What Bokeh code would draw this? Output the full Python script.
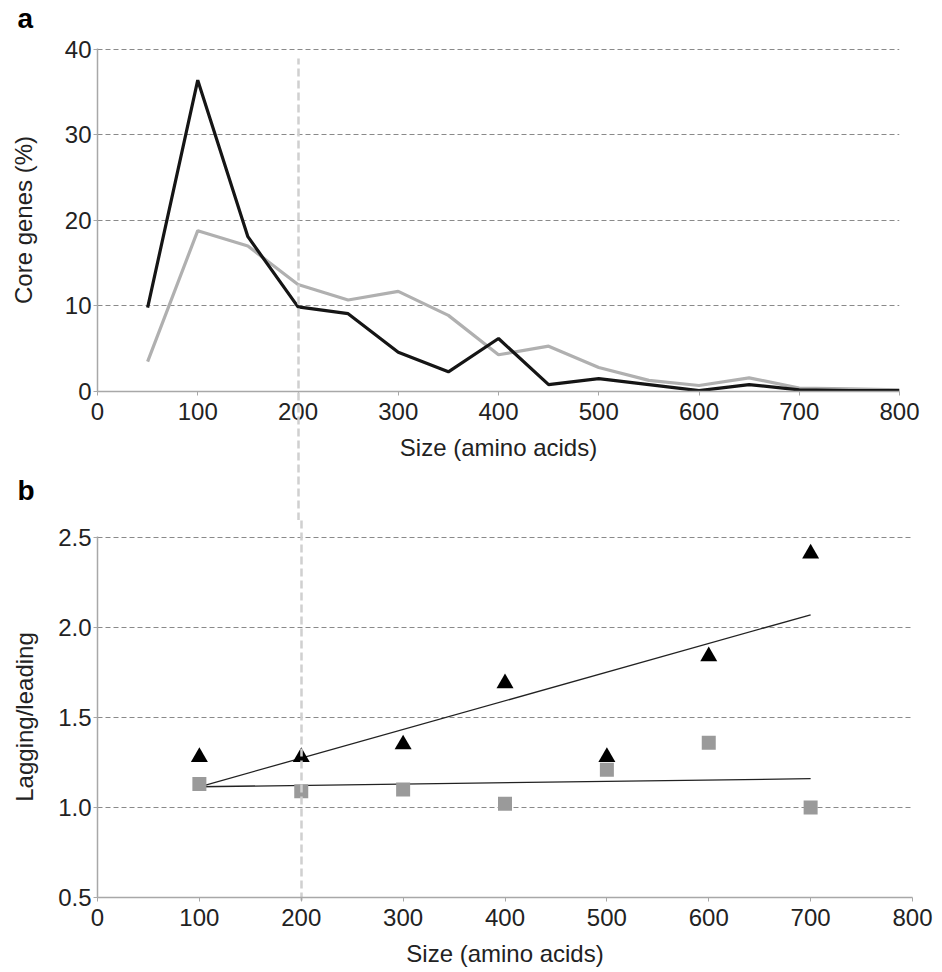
from bokeh.plotting import figure
from bokeh.layouts import column
from bokeh.models import Range1d, FixedTicker, LinearAxis, Title
from bokeh.embed import file_html
from bokeh.resources import INLINE

# ---------------- data ----------------
size_a = [50, 100, 150, 200, 250, 300, 350, 400, 450, 500, 550, 600, 650, 700, 750, 800]
core_black = [9.8, 36.4, 18.1, 9.9, 9.1, 4.6, 2.3, 6.2, 0.8, 1.5, 0.8, 0.1, 0.8, 0.2, 0.1, 0.1]
core_gray = [3.5, 18.8, 17.0, 12.5, 10.7, 11.7, 8.9, 4.3, 5.3, 2.8, 1.3, 0.7, 1.6, 0.4, 0.3, 0.2]

size_b = [100, 200, 300, 400, 500, 600, 700]
ratio_tri = [1.28, 1.28, 1.35, 1.69, 1.28, 1.84, 2.41]
ratio_sq = [1.13, 1.09, 1.10, 1.02, 1.21, 1.36, 1.00]
trend_x = [100, 700]
trend_tri = [1.115, 2.07]
trend_sq = [1.115, 1.16]

xticks = [0, 100, 200, 300, 400, 500, 600, 700, 800]
yticks_a = [0, 10, 20, 30, 40]
yticks_b = [0.5, 1.0, 1.5, 2.0, 2.5]
yticks_b_labels = ["0.5", "1.0", "1.5", "2.0", "2.5"]
cut_x = 200

FONT = "Liberation Sans"
TXT = "#222222"
AXC = "#a8a8a8"
GRIDC = "#8a8a8a"
CUTC = "#d0d0d0"


def style(p, yticks):
    p.outline_line_color = None
    p.title_location = None
    p.xgrid.grid_line_color = None
    p.ygrid.ticker = FixedTicker(ticks=yticks[1:])
    p.ygrid.grid_line_color = GRIDC
    p.ygrid.grid_line_dash = "5 3"
    p.ygrid.grid_line_width = 1
    for ax in (p.xaxis[0], p.yaxis[0]):
        ax.axis_line_color = AXC
        ax.axis_line_width = 1.5
        ax.major_tick_line_color = AXC
        ax.major_tick_in = 0
        ax.major_tick_out = 4
        ax.minor_tick_line_color = None
        ax.major_label_text_font = FONT
        ax.major_label_text_font_size = "24px"
        ax.major_label_text_color = TXT
        ax.axis_label_text_font = FONT
        ax.axis_label_text_font_size = "24px"
        ax.axis_label_text_font_style = "normal"
        ax.axis_label_text_color = TXT
    p.xaxis.ticker = FixedTicker(ticks=xticks)
    p.yaxis.ticker = FixedTicker(ticks=yticks)
    p.xaxis.major_label_standoff = 7
    p.yaxis.major_label_standoff = 2
    p.xaxis.axis_label_standoff = 11


def cut_axis(tick_in, tick_out, color=CUTC):
    # dashed reference line at x = cut_x, drawn as the single tick of a bare axis
    return LinearAxis(ticker=FixedTicker(ticks=[cut_x]), axis_line_color=None,
                      major_tick_in=tick_in, major_tick_out=tick_out,
                      major_tick_line_color=color, major_tick_line_width=2.5,
                      major_tick_line_dash="8 4", minor_tick_line_color=None,
                      major_label_text_font_size="0px", major_label_text_color=None,
                      major_label_standoff=0)


def letter(t, standoff):
    return Title(text=t, align="left", offset=-80, text_font=FONT, text_font_style="bold",
                 text_font_size="28px", text_color="black", standoff=standoff,
                 vertical_align="top")


# ---------------- panel a ----------------
pa = figure(width=929, height=520, output_backend="svg", toolbar_location=None,
            x_range=Range1d(0, 800), y_range=Range1d(0, 40.1))
pa.min_border_left = 97
pa.min_border_right = 30
pa.min_border_top = 48
pa.min_border_bottom = 129
style(pa, yticks_a)
pa.xaxis.axis_label = "Size (amino acids)"
pa.yaxis.axis_label = "Core genes (%)"
pa.yaxis.axis_label_standoff = 25

pa.line(size_a, core_gray, line_color="#b0b0b0", line_width=3.2)
pa.line(size_a, core_black, line_color="#151515", line_width=3.2)

# above: invisible spacer (inner), then panel letter "a" (outer)
pa.add_layout(cut_axis(0, 13, color=None), "above")
pa.add_layout(letter("a", 0), "above")
# below: x axis (inner), letter "b", then the dashed cut line (outer)
pa.add_layout(letter("b", 22), "below")
pa.add_layout(cut_axis(460, 2), "below")

# ---------------- panel b ----------------
pb = figure(width=942, height=452, output_backend="svg", toolbar_location=None,
            x_range=Range1d(0, 800), y_range=Range1d(0.5, 2.505))
pb.min_border_left = 97
pb.min_border_right = 30
pb.min_border_top = 16
pb.min_border_bottom = 75
style(pb, yticks_b)
pb.yaxis.major_label_overrides = {t: l for t, l in zip(yticks_b, yticks_b_labels)}
pb.xaxis.axis_label = "Size (amino acids)"
pb.yaxis.axis_label = "Lagging/leading"
pb.yaxis.axis_label_standoff = 17

pb.line(trend_x, trend_tri, line_color="#222222", line_width=1.3)
pb.line(trend_x, trend_sq, line_color="#222222", line_width=1.3)
pb.scatter(size_b, ratio_sq, marker="square", size=14, fill_color="#9a9a9a", line_color=None)
pb.scatter(size_b, ratio_tri, marker="triangle", size=17, fill_color="black", line_color=None)

pb.add_layout(cut_axis(364, 16), "above")

layout = column(pa, pb, spacing=0)
open("out.html", "w").write(file_html(layout, INLINE))
